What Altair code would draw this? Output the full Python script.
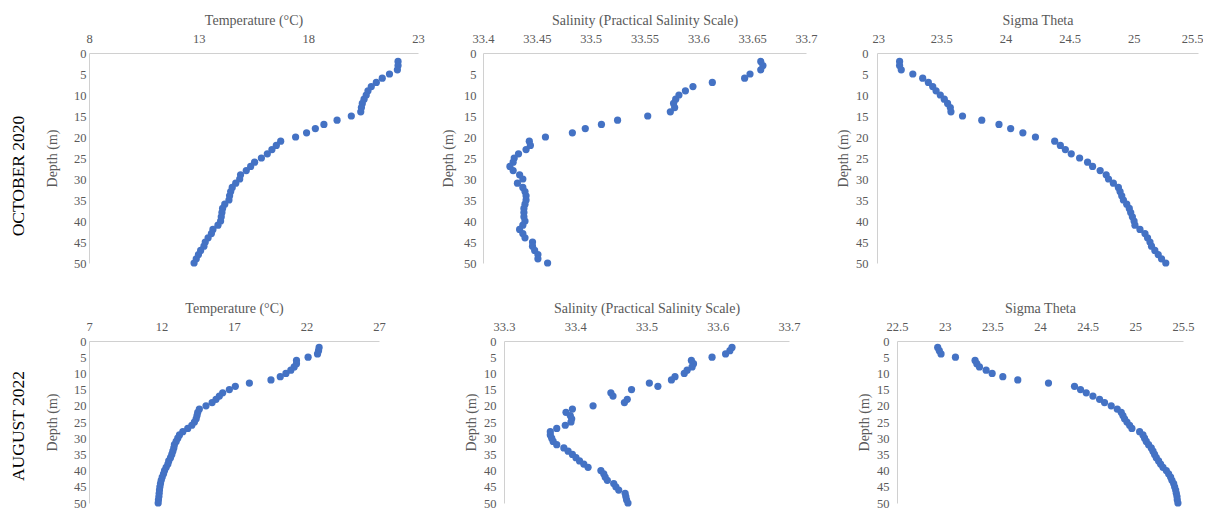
import altair as alt
import pandas as pd

depths = list(range(2, 51))

oct_temp = [22.09, 22.09, 22.06, 21.7, 21.37, 21.1, 20.87, 20.72, 20.64, 20.54,
            20.46, 20.42, 20.39, 19.96, 19.31, 18.71, 18.32, 17.92, 17.42, 16.74,
            16.54, 16.34, 16.13, 15.86, 15.55, 15.37, 15.17, 14.91, 14.87, 14.69,
            14.53, 14.46, 14.41, 14.38, 14.19, 14.09, 14.06, 14.03, 14.0, 13.88,
            13.65, 13.58, 13.43, 13.30, 13.24, 13.09, 12.99, 12.89, 12.79]
oct_sal = [33.658, 33.660, 33.658, 33.648, 33.643, 33.613, 33.595, 33.588, 33.582, 33.579,
           33.577, 33.578, 33.574, 33.553, 33.525, 33.510, 33.495, 33.483, 33.458, 33.443,
           33.444, 33.440, 33.433, 33.429, 33.428, 33.425, 33.428, 33.434, 33.437, 33.432,
           33.437, 33.439, 33.440, 33.440, 33.439, 33.438, 33.438, 33.438, 33.439, 33.437,
           33.434, 33.437, 33.439, 33.446, 33.446, 33.448, 33.451, 33.451, 33.460]
oct_sig = [23.176, 23.176, 23.189, 23.279, 23.356, 23.400, 23.434, 23.460, 23.493, 23.524,
           23.550, 23.571, 23.576, 23.666, 23.816, 23.950, 24.041, 24.136, 24.234, 24.384,
           24.428, 24.467, 24.513, 24.578, 24.640, 24.679, 24.738, 24.785, 24.803, 24.841,
           24.880, 24.893, 24.906, 24.919, 24.945, 24.965, 24.976, 24.989, 25.002, 25.009,
           25.048, 25.087, 25.107, 25.126, 25.138, 25.164, 25.190, 25.216, 25.249]

aug_temp = [22.87, 22.83, 22.76, 22.11, 21.31, 21.31, 21.15, 20.92, 20.58, 20.19,
            19.55, 18.06, 17.09, 16.68, 16.22, 15.99, 15.76, 15.49, 15.07, 14.61,
            14.50, 14.45, 14.39, 14.27, 14.09, 13.81, 13.47, 13.24, 13.12, 13.01,
            12.89, 12.85, 12.78, 12.71, 12.62, 12.50, 12.44, 12.32, 12.21, 12.14,
            12.05, 11.98, 11.93, 11.89, 11.86, 11.84, 11.82, 11.79, 11.77]
aug_sal = [33.620, 33.617, 33.611, 33.592, 33.563, 33.566, 33.564, 33.557, 33.553, 33.540,
           33.535, 33.504, 33.516, 33.479, 33.450, 33.453, 33.473, 33.469, 33.425, 33.396,
           33.387, 33.393, 33.395, 33.394, 33.386, 33.374, 33.365, 33.365, 33.367, 33.369,
           33.374, 33.384, 33.390, 33.396, 33.401, 33.406, 33.412, 33.418, 33.436, 33.440,
           33.442, 33.445, 33.454, 33.457, 33.461, 33.470, 33.471, 33.472, 33.474]
aug_sig = [22.927, 22.944, 22.962, 23.113, 23.319, 23.337, 23.365, 23.435, 23.498, 23.610,
           23.767, 24.089, 24.362, 24.425, 24.485, 24.555, 24.625, 24.677, 24.747, 24.810,
           24.852, 24.870, 24.887, 24.912, 24.940, 24.964, 25.045, 25.080, 25.097, 25.115,
           25.139, 25.167, 25.185, 25.202, 25.220, 25.244, 25.265, 25.290, 25.325, 25.349,
           25.370, 25.384, 25.402, 25.412, 25.423, 25.430, 25.437, 25.440, 25.447]

temp_ticks_oct = [8, 13, 18, 23]
sal_ticks_oct = [33.4, 33.45, 33.5, 33.55, 33.6, 33.65, 33.7]
sig_ticks_oct = [23, 23.5, 24, 24.5, 25, 25.5]
temp_ticks_aug = [7, 12, 17, 22, 27]
sal_ticks_aug = [33.3, 33.4, 33.5, 33.6, 33.7]
sig_ticks_aug = [22.5, 23, 23.5, 24, 24.5, 25, 25.5]
depth_ticks = list(range(0, 51, 5))

row_labels = ["OCTOBER 2020", "AUGUST  2022"]
titles = ["Temperature (\u00b0C)", "Salinity (Practical Salinity Scale)", "Sigma Theta"]

FONT = "Liberation Serif"
BLUE = "#4472C4"
GRAY = "#595959"


def panel(vals, title, ticks, w, h, lpad, tpad, row_label=None, label_y=0, flush=False):
    df = pd.DataFrame({"v": vals, "d": depths})
    xaxis_kw = dict(orient="top", title=title, values=ticks, format="~g",
                    labelPadding=8, titlePadding=5, labelFlush=False)
    if flush:
        xaxis_kw.update(labelFlush=True, labelFlushOffset=5)
    pts = alt.Chart(df).mark_circle(size=52, color=BLUE, opacity=1).encode(
        x=alt.X("v:Q",
                scale=alt.Scale(domain=[ticks[0], ticks[-1]], nice=False, zero=False),
                axis=alt.Axis(**xaxis_kw)),
        y=alt.Y("d:Q",
                scale=alt.Scale(domain=[0, 50], reverse=True, nice=False),
                axis=alt.Axis(title="Depth (m)", values=depth_ticks, labelFlush=False,
                              labelPadding=lpad, titlePadding=tpad)),
    )
    ch = pts
    if row_label is not None:
        lab = alt.Chart(pd.DataFrame({"t": [row_label]})).mark_text(
            font=FONT, fontSize=17.5, color="black", angle=270,
            align="center", baseline="middle"
        ).encode(text="t:N", x=alt.value(-70), y=alt.value(label_y))
        ch = alt.layer(pts, lab)
    return ch.properties(width=w, height=h)


def spacer(w, h):
    return alt.Chart(pd.DataFrame({"a": [0]})).mark_point(opacity=0).encode(
        x=alt.value(0), y=alt.value(0)).properties(width=w, height=h)


h1, h2 = 210, 162
row1 = alt.hconcat(
    panel(oct_temp, titles[0], temp_ticks_oct, 329, h1, 3, 14, row_labels[0], 123),
    spacer(65, h1),
    panel(oct_sal, titles[1], sal_ticks_oct, 323, h1, 7, 8),
    spacer(71, h1),
    panel(oct_sig, titles[2], sig_ticks_oct, 321, h1, 9, 5, flush=True),
    spacing=0, bounds="flush",
)
row2 = alt.hconcat(
    panel(aug_temp, titles[0], temp_ticks_aug, 290, h2, 3, 14, row_labels[1], 85),
    spacer(125, h2),
    panel(aug_sal, titles[1], sal_ticks_aug, 285, h2, 8, 5),
    spacer(108, h2),
    panel(aug_sig, titles[2], sig_ticks_aug, 286, h2, 8, 5),
    spacing=0, bounds="flush",
)

chart = alt.vconcat(row1, row2, spacing=31).properties(
    padding={"left": 2, "top": 5, "right": 0, "bottom": 0}
).configure_view(stroke=None).configure_axis(
    labelFont=FONT, titleFont=FONT, labelFontSize=12.5, titleFontSize=14,
    labelColor=GRAY, titleColor=GRAY, titleFontWeight="normal",
    domainColor="#D0D0D0", domainWidth=1, ticks=False, grid=False,
)

chart.save("out.html", embed_options={"renderer": "svg", "actions": False})
